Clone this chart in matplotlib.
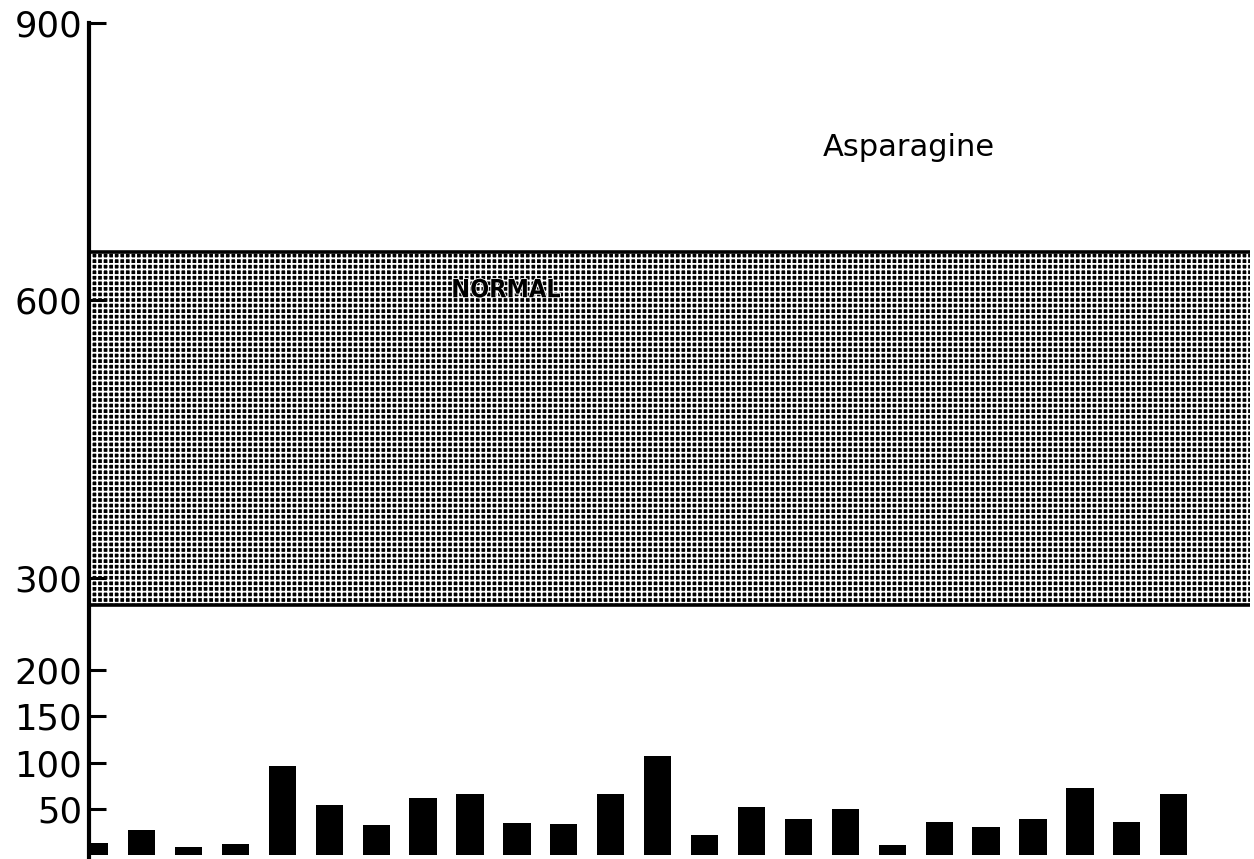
"""Asparagine levels against the normal range (recreated bar chart)."""
import numpy as np
import matplotlib
matplotlib.use("Agg")
import matplotlib.pyplot as plt
import matplotlib.patheffects as pe

# Data
asparagine = [13, 27, 9, 12, 96, 54, 32, 62, 66, 35, 34, 66,
              107, 22, 52, 39, 50, 11, 36, 30, 39, 72, 36, 66]
normal_low, normal_high = 270, 652
y_ticks = [50, 100, 150, 200, 300, 600, 900]
y_tick_labels = ["50", "100", "150", "200", "300", "600", "900"]

plt.rcParams["font.family"] = ["DejaVu Sans"]
plt.rcParams["hatch.linewidth"] = 1.3

fig = plt.figure(figsize=(12.54, 8.59), dpi=100)
ax = fig.add_axes([0.071, 0.0, 0.926, 0.9738])

# Normal range band: dark fill broken up by a white grid -> dot screen look
ax.axhspan(normal_low, normal_high, facecolor="black", edgecolor="white",
           hatch="+++", linewidth=0, zorder=1)
ax.axhline(normal_low, color="black", lw=2.6, zorder=2)
ax.axhline(normal_high, color="black", lw=2.6, zorder=2)

x = np.arange(len(asparagine))
ax.bar(x, asparagine, width=0.58, color="black", zorder=3)

ax.set_xlim(-0.12, 24.63)
ax.set_ylim(-4.3, 900)

for side in ("top", "right", "bottom"):
    ax.spines[side].set_visible(False)
ax.spines["left"].set_linewidth(3)
ax.spines["left"].set_zorder(4)

ax.set_xticks([])
ax.set_yticks(y_ticks)
ax.set_yticklabels(y_tick_labels)
ax.tick_params(axis="y", direction="in", length=12, width=2.2, pad=5,
               labelsize=25.5, colors="black")

ax.text(0.359, 0.68, "NORMAL", transform=ax.transAxes, ha="center", va="center",
        fontsize=18, fontweight="bold", fontstretch="condensed", color="black",
        zorder=5, path_effects=[pe.withStroke(linewidth=1.2, foreground="white")])
fig.text(0.725, 0.828, "Asparagine", ha="center", va="center", fontsize=22)

fig.savefig("out.png", dpi=100, facecolor="w")
